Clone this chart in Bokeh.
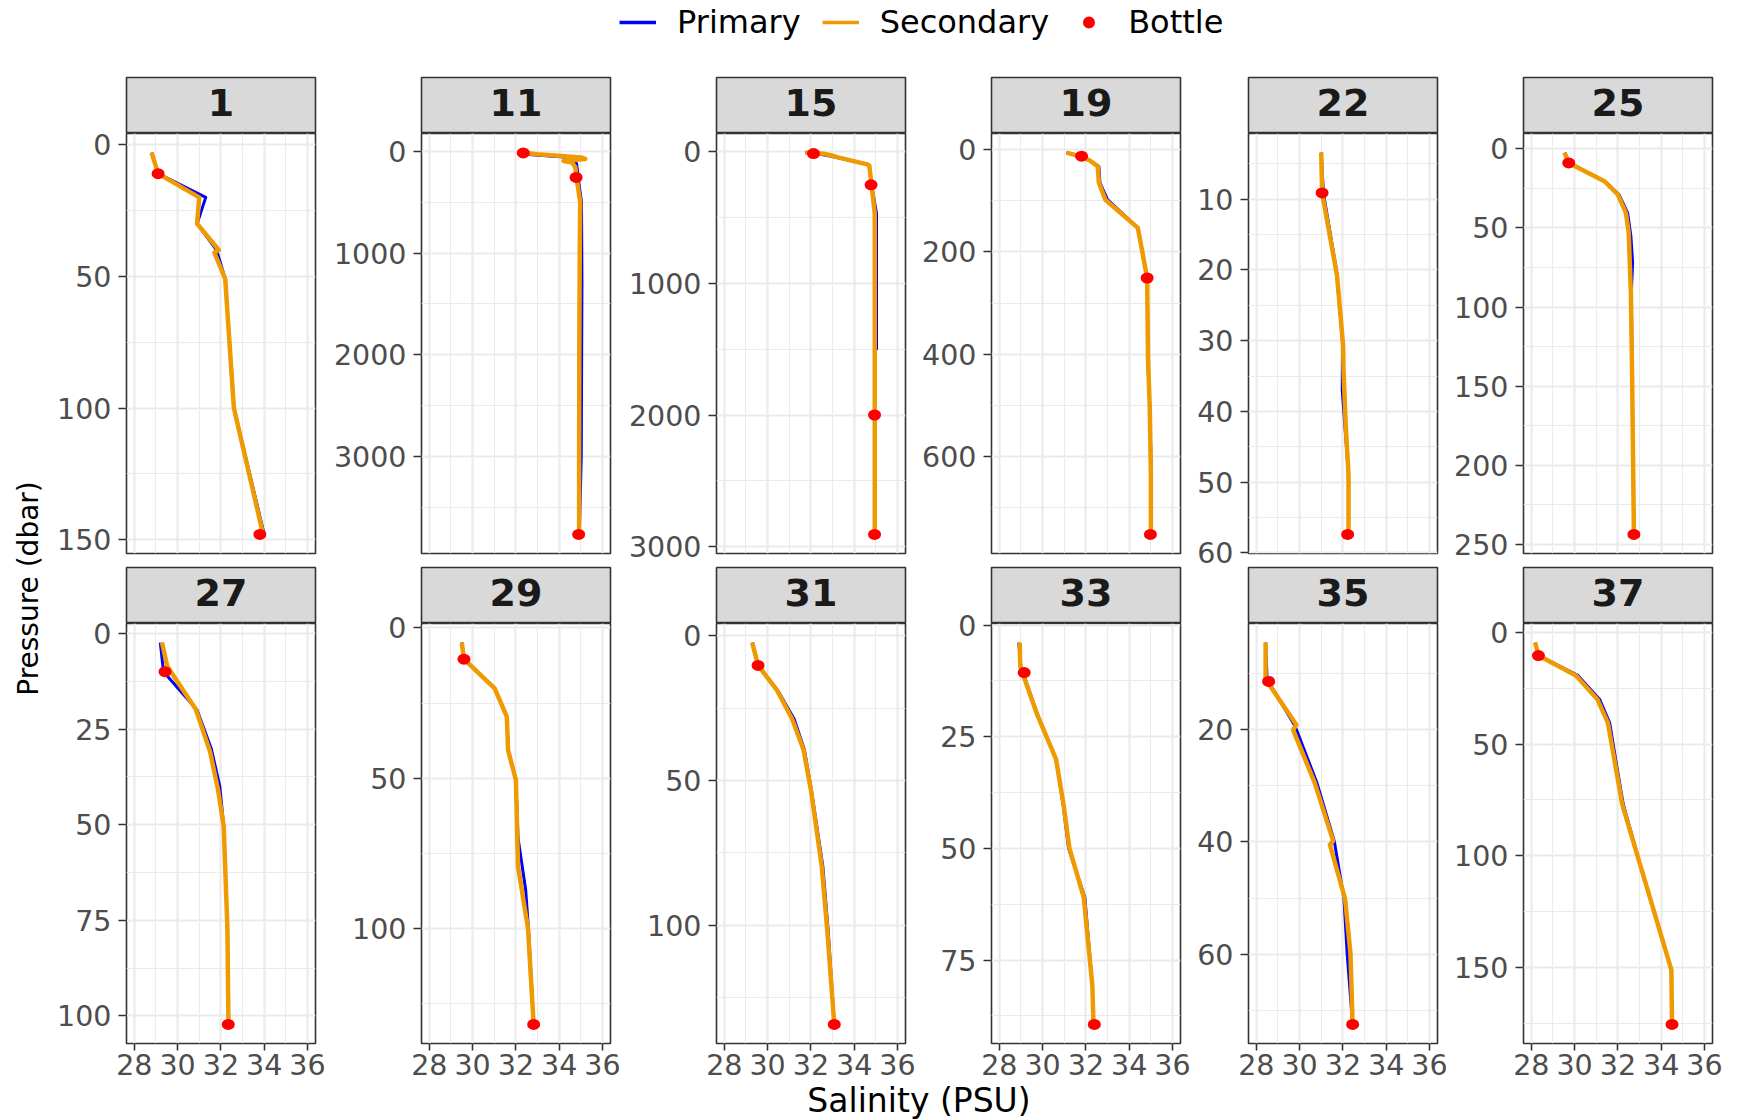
import math
from bokeh.plotting import figure
from bokeh.layouts import row, column
from bokeh.models import Range1d, FixedTicker, Legend, LegendItem
from bokeh.core.properties import value
from bokeh.embed import file_html
from bokeh.resources import INLINE

# ---------------- data ----------------
station_labels = ["1", "11", "15", "19", "22", "25", "27", "29", "31", "33", "35", "37"]
series_names = ["Primary", "Secondary", "Bottle"]
x_title = "Salinity (PSU)"
y_title = "Pressure (dbar)"

sal_ticks = [28, 30, 32, 34, 36]
sal_limits = [27.64, 36.37]

pri_p_1 = [3, 11, 20, 30, 40, 51, 100, 148]
pri_s_1 = [28.8, 29.1, 31.3, 30.9, 31.8, 32.2, 32.6, 34.0]
sec_p_1 = [3, 11, 20, 30, 40, 41, 51, 100, 148]
sec_s_1 = [28.8, 29.1, 31.0, 30.9, 31.9, 31.7, 32.2, 32.6, 33.95]
bot_p_1 = [11, 148]
bot_s_1 = [29.1, 33.8]
pres_ticks_1 = [0, 50, 100, 150]

pri_p_11 = [13, 30, 60, 80, 120, 200, 300, 500, 1300, 3000, 3765]
pri_s_11 = [32.2, 32.4, 34.4, 34.6, 34.8, 34.85, 34.9, 35.03, 35.05, 35.02, 34.93]
sec_p_11 = [13, 30, 60, 75, 95, 110, 160, 257, 500, 1000, 2000, 3000, 3765]
sec_s_11 = [32.2, 33.0, 35.0, 35.2, 34.2, 34.6, 34.75, 34.8, 34.97, 34.95, 34.93, 34.92, 34.92]
bot_p_11 = [16, 257, 3765]
bot_s_11 = [32.34, 34.78, 34.9]
pres_ticks_11 = [0, 1000, 2000, 3000]

pri_p_15 = [11, 20, 40, 100, 110, 255, 470, 1500, 1510, 2000, 2905]
pri_s_15 = [31.75, 32.3, 33.0, 34.6, 34.7, 34.8, 35.03, 35.03, 34.95, 34.95, 34.95]
sec_p_15 = [11, 20, 35, 45, 100, 110, 255, 470, 1000, 2000, 2905]
sec_s_15 = [31.75, 32.6, 33.0, 33.2, 34.6, 34.7, 34.8, 34.95, 34.95, 34.95, 34.95]
bot_p_15 = [18, 255, 2000, 2905]
bot_s_15 = [32.12, 34.78, 34.94, 34.94]
pres_ticks_15 = [0, 1000, 2000, 3000]

pri_p_19 = [6, 14, 22, 33, 65, 98, 153, 251, 411, 503, 630, 752]
pri_s_19 = [31.1, 31.8, 32.2, 32.6, 32.65, 33.0, 34.4, 34.83, 34.87, 34.95, 35.02, 35.02]
sec_p_19 = [6, 14, 22, 33, 65, 98, 153, 251, 411, 503, 630, 752]
sec_s_19 = [31.1, 31.8, 32.2, 32.55, 32.6, 32.9, 34.4, 34.83, 34.87, 34.95, 35.0, 35.0]
bot_p_19 = [13, 251, 752]
bot_s_19 = [31.8, 34.83, 34.98]
pres_ticks_19 = [0, 200, 400, 600]

pri_p_22 = [3.4, 9.1, 20, 30, 37, 48.9, 57.4]
pri_s_22 = [31.0, 31.1, 31.7, 31.98, 31.97, 32.26, 32.26]
sec_p_22 = [3.4, 9.1, 20.8, 30.7, 34.3, 41.9, 48.9, 57.4]
sec_s_22 = [31.0, 31.04, 31.73, 32.01, 32.03, 32.13, 32.26, 32.26]
bot_p_22 = [9.1, 57.4]
bot_s_22 = [31.04, 32.22]
pres_ticks_22 = [10, 20, 30, 40, 50, 60]

pri_p_25 = [2.4, 8.9, 20.5, 29, 40.5, 55, 72, 91, 146, 243.6]
pri_s_25 = [29.55, 29.75, 31.4, 32.05, 32.45, 32.6, 32.68, 32.62, 32.66, 32.74]
sec_p_25 = [2.4, 8.9, 20.5, 29, 40.5, 53, 91, 146, 243.6]
sec_s_25 = [29.53, 29.73, 31.38, 32.0, 32.37, 32.5, 32.6, 32.66, 32.74]
bot_p_25 = [8.9, 243.6]
bot_s_25 = [29.73, 32.74]
pres_ticks_25 = [0, 50, 100, 150, 200, 250]

pri_p_27 = [2.4, 10, 20, 30, 40, 50.4, 77, 102.2]
pri_s_27 = [29.2, 29.35, 30.9, 31.55, 31.95, 32.13, 32.3, 32.35]
sec_p_27 = [2.4, 8.6, 19.8, 30.9, 40.9, 50.4, 77, 102.2]
sec_s_27 = [29.28, 29.52, 30.84, 31.5, 31.87, 32.13, 32.3, 32.35]
bot_p_27 = [10, 102.2]
bot_s_27 = [29.42, 32.34]
pres_ticks_27 = [0, 25, 50, 75, 100]

pri_p_29 = [4.9, 10.4, 20.1, 29.5, 40.7, 50.6, 70, 87, 100, 131.9]
pri_s_29 = [29.5, 29.62, 31.02, 31.58, 31.65, 32.0, 32.1, 32.45, 32.58, 32.82]
sec_p_29 = [4.9, 10.4, 20.1, 29.5, 40.7, 50.6, 79.4, 100, 131.9]
sec_s_29 = [29.5, 29.6, 31.02, 31.58, 31.64, 32.0, 32.1, 32.56, 32.82]
bot_p_29 = [10.4, 131.9]
bot_s_29 = [29.6, 32.82]
pres_ticks_29 = [0, 50, 100]

pri_p_31 = [2.4, 10.3, 18.7, 28.7, 39.4, 53.2, 79.5, 102, 134.2]
pri_s_31 = [29.29, 29.58, 30.45, 31.22, 31.7, 32.02, 32.55, 32.8, 33.08]
sec_p_31 = [2.4, 10.3, 18.7, 28.7, 39.4, 53.2, 79.5, 102, 134.2]
sec_s_31 = [29.29, 29.56, 30.42, 31.13, 31.66, 32.0, 32.5, 32.76, 33.08]
bot_p_31 = [10.3, 134.2]
bot_s_31 = [29.56, 33.08]
pres_ticks_31 = [0, 50, 100]

pri_p_33 = [3.9, 9.3, 19.8, 30, 40.2, 50, 60.9, 80.8, 89.4]
pri_s_33 = [28.9, 29.0, 29.75, 30.62, 30.95, 31.2, 31.95, 32.3, 32.35]
sec_p_33 = [3.9, 9.3, 19.8, 30, 40.2, 50, 60.9, 80.8, 89.4]
sec_s_33 = [28.94, 28.97, 29.73, 30.62, 30.97, 31.24, 31.9, 32.3, 32.35]
bot_p_33 = [10.6, 89.4]
bot_s_33 = [29.15, 32.39]
pres_ticks_33 = [0, 25, 50, 75]

pri_p_35 = [4.6, 11.1, 19.5, 29.5, 39.8, 50.1, 60, 72.4]
pri_s_35 = [28.43, 28.5, 29.8, 30.8, 31.6, 32.05, 32.2, 32.45]
sec_p_35 = [4.6, 11.1, 19.2, 20.1, 29.5, 39.8, 40.5, 50.1, 59.8, 72.4]
sec_s_35 = [28.43, 28.43, 29.85, 29.7, 30.7, 31.55, 31.4, 32.1, 32.35, 32.45]
bot_p_35 = [11.5, 72.4]
bot_s_35 = [28.57, 32.45]
pres_ticks_35 = [20, 40, 60]

pri_p_37 = [4.6, 10.4, 19.3, 29.9, 40.5, 60, 77, 103, 151, 175.4]
pri_s_37 = [28.18, 28.35, 30.15, 31.15, 31.62, 31.95, 32.25, 33.0, 34.47, 34.5]
sec_p_37 = [4.6, 10.4, 19.3, 29.9, 40.5, 77, 103, 151, 175.4]
sec_s_37 = [28.18, 28.33, 30.06, 31.05, 31.54, 32.2, 33.0, 34.47, 34.5]
bot_p_37 = [10.4, 175.4]
bot_s_37 = [28.33, 34.5]
pres_ticks_37 = [0, 50, 100, 150]

panels = [
    (pri_p_1, pri_s_1, sec_p_1, sec_s_1, bot_p_1, bot_s_1, pres_ticks_1),
    (pri_p_11, pri_s_11, sec_p_11, sec_s_11, bot_p_11, bot_s_11, pres_ticks_11),
    (pri_p_15, pri_s_15, sec_p_15, sec_s_15, bot_p_15, bot_s_15, pres_ticks_15),
    (pri_p_19, pri_s_19, sec_p_19, sec_s_19, bot_p_19, bot_s_19, pres_ticks_19),
    (pri_p_22, pri_s_22, sec_p_22, sec_s_22, bot_p_22, bot_s_22, pres_ticks_22),
    (pri_p_25, pri_s_25, sec_p_25, sec_s_25, bot_p_25, bot_s_25, pres_ticks_25),
    (pri_p_27, pri_s_27, sec_p_27, sec_s_27, bot_p_27, bot_s_27, pres_ticks_27),
    (pri_p_29, pri_s_29, sec_p_29, sec_s_29, bot_p_29, bot_s_29, pres_ticks_29),
    (pri_p_31, pri_s_31, sec_p_31, sec_s_31, bot_p_31, bot_s_31, pres_ticks_31),
    (pri_p_33, pri_s_33, sec_p_33, sec_s_33, bot_p_33, bot_s_33, pres_ticks_33),
    (pri_p_35, pri_s_35, sec_p_35, sec_s_35, bot_p_35, bot_s_35, pres_ticks_35),
    (pri_p_37, pri_s_37, sec_p_37, sec_s_37, bot_p_37, bot_s_37, pres_ticks_37),
]

# ---------------- style / layout ----------------
FONT = "DejaVu Sans"
C_PRI = "#0000FF"
C_SEC = "#EE9A00"
C_BOT = "#FF0000"
GRID_C = "#EBEBEB"
DARK = "#333333"

FRAME_W, FRAME_H, STRIP_H = 189, 420, 56
FRAME_LEFTS = [126, 421, 716, 991, 1247, 1522]   # page x of each panel's left edge
RIGHT = 14
YT_W = 48
LEFT = []
_prev = YT_W
for fl in FRAME_LEFTS:
    LEFT.append(fl - _prev)
    _prev = fl + FRAME_W + RIGHT
TOTAL_W = _prev
ROW1_BOTTOM = 13
ROW2_BOTTOM = 45
PAD = 20          # transparent room so edge tick labels are not clipped
LEGEND_H = 76
GRID_H = 2 * (STRIP_H + 1) + 2 * FRAME_H + ROW1_BOTTOM + ROW2_BOTTOM
XT_H = 47
XT_OVERLAP = 16


def minor_of(ticks):
    step = ticks[1] - ticks[0]
    return [t - step / 2 for t in ticks] + [ticks[-1] + step / 2]


def make_strip(label, col):
    s = figure(frame_width=FRAME_W, frame_height=STRIP_H,
               x_range=Range1d(0, FRAME_W), y_range=Range1d(0, STRIP_H),
               min_border_left=LEFT[col], min_border_right=RIGHT,
               min_border_top=1, min_border_bottom=0,
               x_axis_location=None, y_axis_location=None,
               background_fill_color="#D9D9D9", border_fill_color=None,
               outline_line_color=DARK, outline_line_width=1.6,
               toolbar_location=None, output_backend="svg")
    s.grid.visible = False
    s.text(x=[FRAME_W / 2], y=[31.5], text=[label], text_align="center",
           text_baseline="middle", text_font=value(FONT),
           text_font_style=value("bold"), text_font_size=value("38px"),
           text_color="#1A1A1A")
    return s


def make_panel(data, col, bottom_row):
    pp, ps, sp, ss, bp, bs, yt = data
    allp = pp + sp + bp
    lo, hi = min(allp), max(allp)
    pad = 0.05 * (hi - lo)
    p = figure(frame_width=FRAME_W, frame_height=FRAME_H,
               x_range=Range1d(*sal_limits), y_range=Range1d(hi + pad, lo - pad),
               min_border_left=LEFT[col], min_border_right=RIGHT,
               min_border_top=PAD,
               min_border_bottom=ROW2_BOTTOM if bottom_row else ROW1_BOTTOM + PAD,
               x_axis_location="below" if bottom_row else None,
               background_fill_color="white", border_fill_color=None,
               outline_line_color=DARK, outline_line_width=1.6,
               toolbar_location=None, output_backend="svg",
               margin=(-PAD, 0, 0, 0))
    yticker = FixedTicker(ticks=yt, minor_ticks=minor_of(yt))
    xticker = FixedTicker(ticks=sal_ticks, minor_ticks=minor_of(sal_ticks))
    p.yaxis.ticker = yticker
    p.ygrid.ticker = yticker
    p.xgrid.ticker = xticker
    for g in list(p.xgrid) + list(p.ygrid):
        g.grid_line_color = GRID_C
        g.grid_line_width = 2.2
        g.minor_grid_line_color = GRID_C
        g.minor_grid_line_width = 1.1
    axes = list(p.yaxis) + (list(p.xaxis) if bottom_row else [])
    if bottom_row:
        p.xaxis.ticker = xticker
    for ax in axes:
        ax.axis_line_color = None
        ax.major_tick_line_color = DARK
        ax.major_tick_line_width = 1.6
        ax.major_tick_in = 0
        ax.minor_tick_line_color = None
        ax.major_label_text_font = FONT
        ax.major_label_text_font_size = "28.5px"
        ax.major_label_text_color = "#4D4D4D"
    p.yaxis.major_tick_out = 8
    p.yaxis.major_label_standoff = 7
    if bottom_row:
        p.xaxis.major_tick_out = 7
        p.xaxis.major_label_standoff = 3

    p.line(ps, pp, line_color=C_PRI, line_width=3, line_join="round")
    p.line(ss, sp, line_color=C_SEC, line_width=4.5, line_join="round")
    p.ellipse(x=bs, y=bp, width=13, height=11, width_units="screen",
              height_units="screen", fill_color=C_BOT, line_color=None)
    return p


rows = []
for r in range(2):
    cells = []
    for c in range(6):
        k = r * 6 + c
        cells.append(column(make_strip(station_labels[k], c),
                            make_panel(panels[k], c, r == 1)))
    rows.append(row(*cells, margin=(-PAD if r == 1 else 0, 0, 0, 0)))
grid = column(*rows)

# y title
yt_fig = figure(width=YT_W, height=GRID_H, x_range=Range1d(0, YT_W),
                y_range=Range1d(0, GRID_H), min_border=0,
                x_axis_location=None, y_axis_location=None, outline_line_color=None,
                toolbar_location=None, output_backend="svg")
yt_fig.grid.visible = False
yt_center_from_top = (STRIP_H + 1) + (GRID_H - (STRIP_H + 1) - ROW2_BOTTOM) / 2
yt_fig.text(x=[28], y=[GRID_H - yt_center_from_top], text=[y_title],
            angle=math.pi / 2, text_align="center", text_baseline="middle",
            text_font=value(FONT), text_font_size=value("28px"), text_color="black")

# legend (keys come from off-canvas proxy renderers)
leg_fig = figure(width=TOTAL_W, height=LEGEND_H, x_range=Range1d(0, 1), y_range=Range1d(0, 1),
                 min_border=0, x_axis_location=None, y_axis_location=None,
                 outline_line_color=None, toolbar_location=None, output_backend="svg")
leg_fig.grid.visible = False
r1 = leg_fig.line([-10, -9], [-10, -9], line_color=C_PRI, line_width=3.5)
r2 = leg_fig.line([-10, -9], [-10, -9], line_color=C_SEC, line_width=3.5)
r3 = leg_fig.scatter([-10], [-10], size=12, fill_color=C_BOT, line_color=None)
legend = Legend(items=[LegendItem(label=series_names[0], renderers=[r1]),
                       LegendItem(label=series_names[1], renderers=[r2]),
                       LegendItem(label=series_names[2], renderers=[r3])],
                orientation="horizontal", location=(619, 35),
                border_line_color=None, background_fill_alpha=0,
                padding=0, margin=0, spacing=21, label_standoff=21,
                glyph_width=37, glyph_height=30, label_height=30,
                label_text_font=FONT, label_text_font_size="32px",
                label_text_color="black")
leg_fig.add_layout(legend)

# x title (overlaps the empty lower part of the bottom-row borders)
xt_fig = figure(width=TOTAL_W, height=XT_H, x_range=Range1d(0, TOTAL_W),
                y_range=Range1d(0, XT_H), min_border=0,
                x_axis_location=None, y_axis_location=None, outline_line_color=None,
                border_fill_color=None, background_fill_color=None,
                toolbar_location=None, output_backend="svg",
                margin=(-XT_OVERLAP, 0, 0, 0))
xt_fig.grid.visible = False
panels_center = (FRAME_LEFTS[0] + FRAME_LEFTS[-1] + FRAME_W) / 2
xt_fig.text(x=[panels_center], y=[19], text=[x_title],
            text_align="center", text_baseline="middle",
            text_font=value(FONT), text_font_size=value("33px"), text_color="black")

layout = column(leg_fig, row(yt_fig, grid), xt_fig)

open("out.html", "w").write(file_html(layout, INLINE))
